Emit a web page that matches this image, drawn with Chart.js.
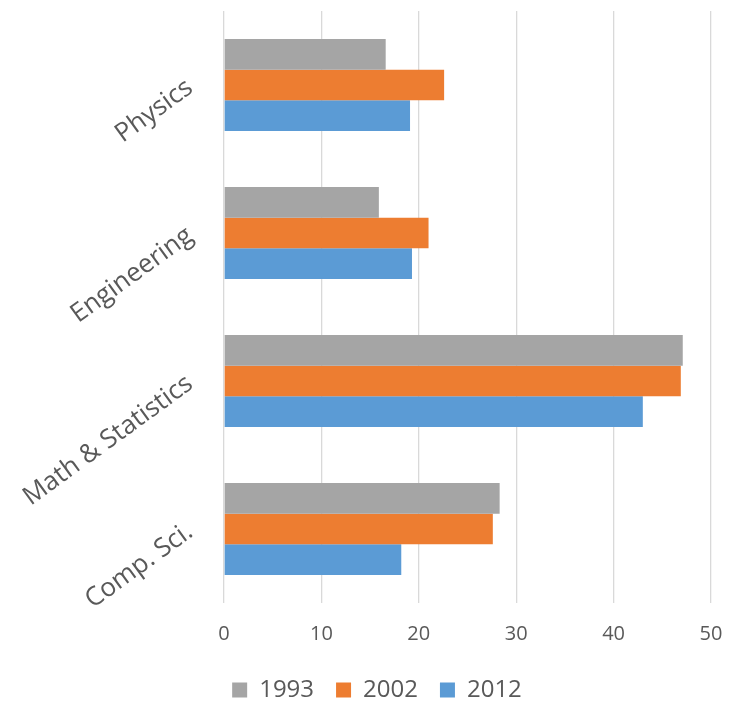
<!DOCTYPE html>
<html>
<head>
<meta charset="utf-8">
<script src="https://cdn.jsdelivr.net/npm/chart.js@4.4.1/dist/chart.umd.min.js"></script>
<style>
  html, body { margin: 0; padding: 0; background: #ffffff; overflow: hidden; }
  #wrap { width: 732px; height: 702px; }
</style>
</head>
<body>
<div id="wrap"><canvas id="chart" width="732" height="702"></canvas></div>
<script>
// Fields of study, top to bottom
const categories = ['Physics', 'Engineering', 'Math & Statistics', 'Comp. Sci.'];
// Survey years
const years = ['1993', '2002', '2012'];
// Values per year, one entry per field
const values1993 = [16.6, 15.9, 47.1, 28.3];
const values2002 = [22.6, 21.0, 46.9, 27.6];
const values2012 = [19.1, 19.3, 43.0, 18.2];
// Value axis ticks
const xTicks = [0, 10, 20, 30, 40, 50];

const seriesColors = ['#A5A5A5', '#ED7D31', '#5B9BD5'];
const seriesValues = [values1993, values2002, values2012];
const textColor = '#595959';
const fontFamily = "'Open Sans', 'Noto Sans', sans-serif";

const datasets = years.map((y, i) => ({
  label: y,
  data: seriesValues[i],
  backgroundColor: seriesColors[i],
  borderWidth: 0
}));

// The slanted category labels run past the left edge of the y axis box;
// widen the label clip region so they are not cut off.
const unclipCategoryLabels = {
  id: 'unclipCategoryLabels',
  afterLayout(chart) {
    chart.scales.y.left = 0;
  }
};

new Chart(document.getElementById('chart'), {
  type: 'bar',
  data: { labels: categories, datasets },
  plugins: [unclipCategoryLabels],
  options: {
    responsive: false,
    animation: false,
    indexAxis: 'y',
    layout: { padding: { top: 11, left: 43, right: 21, bottom: 0 } },
    datasets: { bar: { categoryPercentage: 0.622, barPercentage: 1.0 } },
    scales: {
      x: {
        min: xTicks[0],
        max: xTicks[xTicks.length - 1],
        afterBuildTicks(scale) { scale.ticks = xTicks.map(v => ({ value: v })); },
        ticks: { padding: 19, color: textColor, font: { family: fontFamily, size: 20 } },
        grid: { color: '#D9D9D9', lineWidth: 1.3, drawTicks: false },
        border: { display: false },
        afterFit(scale) {
          scale.height = 53;
          scale.paddingLeft = 0;
          scale.paddingRight = 0;
        }
      },
      y: {
        ticks: {
          minRotation: 36, maxRotation: 36, padding: 34,
          color: textColor, font: { family: fontFamily, size: 26 }
        },
        grid: { display: false, drawTicks: false },
        border: { display: false },
        afterFit(scale) {
          scale.width = 181;
          scale.paddingTop = 0;
          scale.paddingBottom = 0;
        }
      }
    },
    plugins: {
      legend: {
        position: 'bottom',
        maxHeight: 46,
        labels: {
          boxWidth: 15, boxHeight: 15, padding: 22,
          color: textColor, font: { family: fontFamily, size: 24 }
        }
      },
      tooltip: { enabled: false }
    }
  }
});
</script>
</body>
</html>
